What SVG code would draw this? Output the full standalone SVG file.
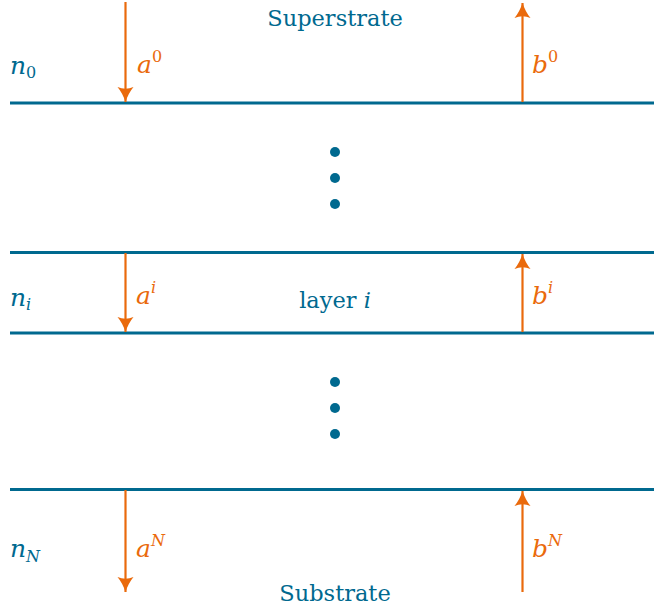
<svg xmlns="http://www.w3.org/2000/svg" width="654" height="609" viewBox="0 0 654 609">
<style>
.layer{stroke:#00698f;stroke-width:3;fill:none}
.arr{stroke:#ea6a0c;stroke-width:2.2;fill:none;marker-end:url(#ah)}
.dot{fill:#00698f}
.t{font-family:"DejaVu Serif","Liberation Serif",serif;font-size:22.5px}
.m{font-size:25px}
.blue{fill:#00698f}
.orange{fill:#ea6a0c}
.it{font-style:italic}
.sub{font-size:16px}
</style>
<defs>
<marker id="ah" markerUnits="userSpaceOnUse" markerWidth="18" markerHeight="18" refX="15" refY="8" orient="auto" viewBox="0 0 18 16">
<path d="M0,0 Q6,5 15,8 Q6,11 0,16 Q3.5,8 0,0 Z" fill="#ea6a0c"/>
</marker>
</defs>
<g id="layers">
<line class="layer" x1="10" y1="103" x2="654" y2="103"/>
<line class="layer" x1="10" y1="252.5" x2="654" y2="252.5"/>
<line class="layer" x1="10" y1="333" x2="654" y2="333"/>
<line class="layer" x1="10" y1="489.5" x2="654" y2="489.5"/>
</g>
<g id="dots">
<circle class="dot" cx="335" cy="152" r="5"/>
<circle class="dot" cx="335" cy="178" r="5"/>
<circle class="dot" cx="335" cy="204" r="5"/>
<circle class="dot" cx="335" cy="382" r="5"/>
<circle class="dot" cx="335" cy="408" r="5"/>
<circle class="dot" cx="335" cy="434" r="5"/>
</g>
<g id="connectors">
<line class="arr" x1="125.5" y1="2" x2="125.5" y2="102"/>
<line class="arr" x1="522.5" y1="102" x2="522.5" y2="3"/>
<line class="arr" x1="125.5" y1="253" x2="125.5" y2="332"/>
<line class="arr" x1="522.5" y1="332" x2="522.5" y2="254"/>
<line class="arr" x1="125.5" y1="490" x2="125.5" y2="592"/>
<line class="arr" x1="522.5" y1="592" x2="522.5" y2="491"/>
</g>
<g id="labels">
<text class="t blue" x="335" y="26" text-anchor="middle">Superstrate</text>
<text class="t blue" x="335" y="601" text-anchor="middle">Substrate</text>
<text class="t blue" x="335" y="308" text-anchor="middle">layer <tspan class="it">i</tspan></text>
<text class="t m blue it" x="10" y="74">n<tspan class="sub" font-style="normal" dy="4">0</tspan></text>
<text class="t m blue it" x="10" y="306">n<tspan class="sub" dy="4">i</tspan></text>
<text class="t m blue it" x="10" y="557">n<tspan class="sub" dy="5">N</tspan></text>
<text class="t m orange it" x="137" y="73">a<tspan class="sub" font-style="normal" dy="-11">0</tspan></text>
<text class="t m orange it" x="532" y="73">b<tspan class="sub" font-style="normal" dy="-11">0</tspan></text>
<text class="t m orange it" x="136" y="304">a<tspan class="sub" dy="-11">i</tspan></text>
<text class="t m orange it" x="532" y="304">b<tspan class="sub" dy="-11">i</tspan></text>
<text class="t m orange it" x="136" y="557">a<tspan class="sub" dy="-11">N</tspan></text>
<text class="t m orange it" x="532" y="557">b<tspan class="sub" dy="-11">N</tspan></text>
</g>
</svg>
